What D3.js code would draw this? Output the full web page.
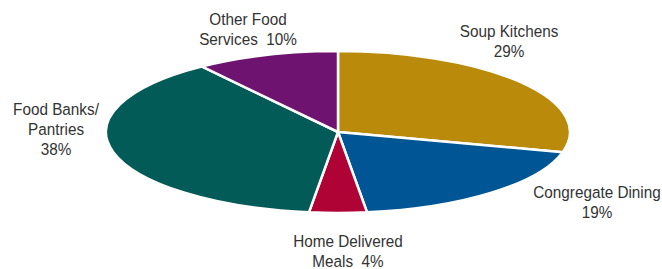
<!DOCTYPE html>
<html>
<head>
<meta charset="utf-8">
<script src="https://cdn.jsdelivr.net/npm/d3@7"></script>
<style>
  html, body { margin: 0; padding: 0; background: #fff; }
  svg text { font-family: "Liberation Sans", Arial, sans-serif; fill: #333; font-size: 17px; }
</style>
</head>
<body>
<div id="chart"></div>
<script>
// données du graphique
const categories = ["Soup Kitchens", "Congregate Dining", "Home Delivered Meals", "Food Banks/ Pantries", "Other Food Services"];
const values = [29, 19, 4, 38, 10];
const colors = ["#BA8B0A", "#005594", "#AF0235", "#035B57", "#6E1470"];
// lignes des étiquettes
const labelLines = [
  ["Soup Kitchens", "29%"],
  ["Congregate Dining", "19%"],
  ["Home Delivered", "Meals  4%"],
  ["Food Banks/", "Pantries", "38%"],
  ["Other Food", "Services  10%"]
];

const width = 662, height = 269;
const cx = 338, cy = 132;
const rx = 232, ry = 81;

const svg = d3.select("#chart").append("svg")
  .attr("width", width)
  .attr("height", height);

const data = categories.map((c, i) => ({ name: c, value: values[i], color: colors[i], lines: labelLines[i] }));

const pie = d3.pie().value(d => d.value).sort(null);
const arc = d3.arc().innerRadius(0).outerRadius(rx);

// camembert aplati en ellipse
const g = svg.append("g")
  .attr("transform", "translate(" + cx + "," + cy + ") scale(1," + (ry / rx) + ")");

g.selectAll("path")
  .data(pie(data))
  .enter().append("path")
  .attr("d", arc)
  .attr("fill", d => d.data.color)
  .attr("stroke", "#fff")
  .attr("stroke-width", 2.5)
  .attr("vector-effect", "non-scaling-stroke")
  .attr("stroke-linejoin", "round");

// positions des étiquettes (x centre, y première ligne)
const labelPos = [[509, 37], [597, 198], [348, 247], [56, 115], [248, 25]];
const lineHeight = 20;

// police condensée simulée
const labels = svg.selectAll(".label")
  .data(data)
  .enter().append("text")
  .attr("class", "label")
  .attr("text-anchor", "middle")
  .attr("transform", (d, i) => "translate(" + labelPos[i][0] + "," + labelPos[i][1] + ") scale(0.9,1)");

labels.each(function(d, i) {
  const t = d3.select(this);
  d.lines.forEach((line, j) => {
    t.append("tspan")
      .attr("x", 0)
      .attr("dy", j === 0 ? 0 : lineHeight)
      .attr("xml:space", "preserve")
      .text(line);
  });
});
</script>
</body>
</html>
